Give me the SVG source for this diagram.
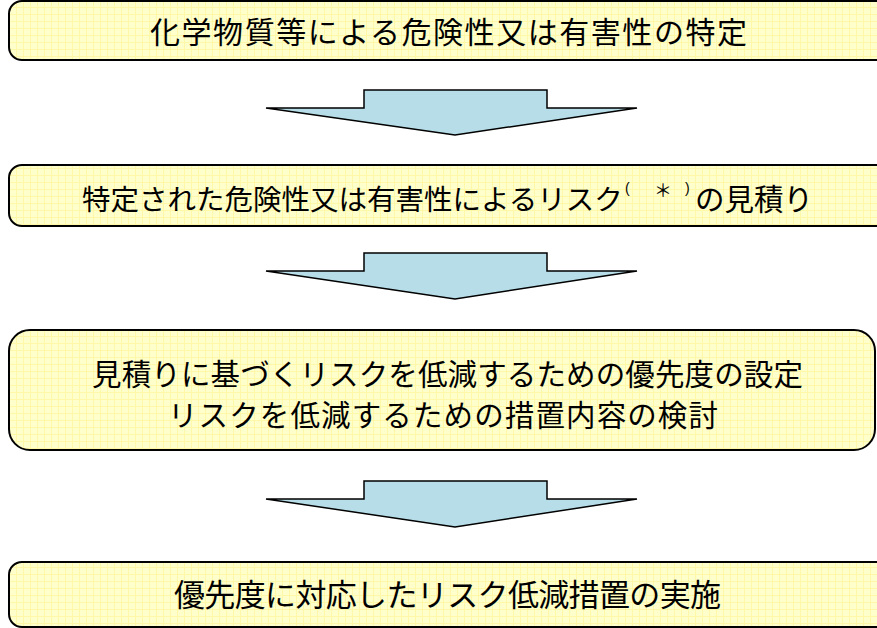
<svg xmlns="http://www.w3.org/2000/svg" width="877" height="628" viewBox="0 0 877 628">
<defs>
<pattern id="grid" x="9" y="0" width="7" height="7" patternUnits="userSpaceOnUse">
<rect width="7" height="7" fill="#FFFFCC"/>
<path d="M0 0.5H7M0.5 0V7" stroke="#FFF8A8" stroke-width="1" fill="none"/>
</pattern>
</defs>
<style>
.box{fill:url(#grid);stroke:#000;stroke-width:2}
.t{font-family:"Noto Sans CJK JP","Noto Sans CJK SC",sans-serif;fill:#000}
.p{font-family:"Liberation Sans",Arial,sans-serif;font-size:14px}
.arrow{fill:#B7DEE8;stroke:#000;stroke-width:1.5;stroke-linejoin:miter}
</style>
<rect width="877" height="628" fill="#fff"/>
<g id="node1">
<rect class="box" x="9" y="1" width="890" height="59" rx="13"/>
<text class="t" x="150" y="43" font-size="30" textLength="597" lengthAdjust="spacing">化学物質等による危険性又は有害性の特定</text>
</g>
<g id="node2">
<rect class="box" x="9" y="165" width="890" height="61" rx="13"/>
<text class="t" x="82" y="210" font-size="28.5">特定された危険性又は有害性によるリスク<tspan class="p" x="625" y="193">(</tspan><tspan x="654" y="197" font-size="18">＊</tspan><tspan class="p" x="685" y="193">)</tspan><tspan x="695" y="210" font-size="29.5">の見積り</tspan></text>
</g>
<g id="node3">
<rect class="box" x="9" y="330" width="866" height="120" rx="21"/>
<text class="t" x="92" y="385" font-size="29.5" textLength="711" lengthAdjust="spacing">見積りに基づくリスクを低減するための優先度の設定</text>
<text class="t" x="168" y="426" font-size="29.5" textLength="550" lengthAdjust="spacing">リスクを低減するための措置内容の検討</text>
</g>
<g id="node4">
<rect class="box" x="9" y="562" width="890" height="65" rx="13"/>
<text class="t" x="174" y="606" font-size="31" textLength="547" lengthAdjust="spacing">優先度に対応したリスク低減措置の実施</text>
</g>
<g id="connectors">
<polygon class="arrow" points="364,90 547,90 547,108 637,108 455,135 266,108 364,108"/>
<polygon class="arrow" points="364,253 547,253 547,271 637,271 455,299 266,271 364,271"/>
<polygon class="arrow" points="364,481 547,481 547,499 637,499 455,527 266,499 364,499"/>
</g>
</svg>
